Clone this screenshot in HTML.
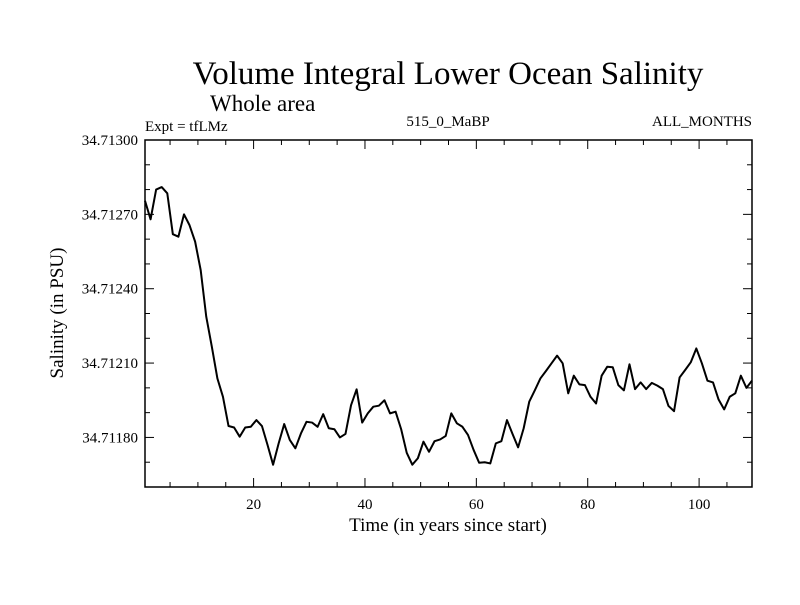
<!DOCTYPE html>
<html><head><meta charset="utf-8"><style>
body{margin:0;background:#fff}
svg text{font-family:"Liberation Serif",serif;fill:#000}
</style></head><body>
<svg id="c" width="800" height="600">
<text x="448" y="84" font-size="33" text-anchor="middle">Volume Integral Lower Ocean Salinity</text>
<text x="210" y="111" font-size="23">Whole area</text>
<text x="145" y="131" font-size="15">Expt = tfLMz</text>
<text x="448" y="126" font-size="15" text-anchor="middle">515_0_MaBP</text>
<text x="752" y="126" font-size="15" text-anchor="end">ALL_MONTHS</text>
<text x="448" y="531" font-size="19" text-anchor="middle">Time (in years since start)</text>
<text transform="translate(63,313) rotate(-90)" font-size="19" text-anchor="middle">Salinity (in PSU)</text>
<g id="ax"></g>
</svg>
<script>
const years=[];for(let i=1;i<=110;i++)years.push(i-0.5);
const offsets=[115.5,108,120,121,118.5,102,101,110,105.6,99,87.5,68.7,56.6,43.8,36.4,24.6,24,20.3,24,24.3,27,24.6,17,9,17.6,25.4,19,15.6,21.6,26.3,26,24.3,29.4,23.7,23.3,20,21.4,33,39.4,26,29.7,32.4,32.8,35,29.7,30.4,23.3,13.8,9,11.6,18.3,14.2,18.5,19.2,20.6,29.7,25.7,24.3,21,15,9.8,10,9.5,17.6,18.5,27,21.4,16,23.7,34.4,39,43.8,46.8,49.9,53,49.9,37.8,44.9,41.4,41.1,36.4,33.7,44.9,48.5,48.3,41.1,39,49.5,39.5,42.2,39.5,42,40.9,39.5,32.7,30.6,44.2,47.2,50.3,55.9,49.9,42.9,42.2,35.3,31.3,36.4,37.8,44.9,40,42.9];
const values=offsets.map(o=>34.71160+o*1e-5);
const yTicks=[34.71180,34.71210,34.71240,34.71270,34.71300];
const yTickLabels=["34.71180","34.71210","34.71240","34.71270","34.71300"];
const xTicks=[20,40,60,80,100];
const X0=145,X1=752,Y0=140,Y1=487,xmin=0.5,xmax=109.5,ymin=34.7116,ymax=34.7130;
const sx=v=>X0+(v-xmin)/(xmax-xmin)*(X1-X0);
const sy=v=>Y1-(v-ymin)/(ymax-ymin)*(Y1-Y0);
const NS="http://www.w3.org/2000/svg",g=document.getElementById('ax');
function mk(t,a){const e=document.createElementNS(NS,t);for(const k in a)e.setAttribute(k,a[k]);g.appendChild(e);return e;}
const fr=mk('rect',{x:X0,y:Y0,width:X1-X0,height:Y1-Y0,fill:'none',stroke:'#000','stroke-width':1.5});


for(let v=5;v<110;v+=5){const x=sx(v),L=(v%20==0)?9:5;
const t1=mk('line',{x1:x,y1:Y1,x2:x,y2:Y1-L,stroke:'#000'});


const t2=mk('line',{x1:x,y1:Y0,x2:x,y2:Y0+L,stroke:'#000'});

}
xTicks.forEach(v=>{const t=mk('text',{x:sx(v),y:509,'font-size':15,'text-anchor':'middle'});t.textContent=v;

});
for(let k=1;k<14;k++){const v=ymin+k*1e-4,y=sy(v),L=(k%3==2)?9:5;
const t1=mk('line',{x1:X0,y1:y,x2:X0+L,y2:y,stroke:'#000'});


const t2=mk('line',{x1:X1,y1:y,x2:X1-L,y2:y,stroke:'#000'});

}
yTicks.forEach((v,i)=>{const t=mk('text',{x:138,y:sy(v)+5,'font-size':15,'text-anchor':'end'});t.textContent=yTickLabels[i];

});
const p=mk('polyline',{points:years.map((x,i)=>sx(x)+','+sy(values[i])).join(' '),fill:'none',stroke:'#000','stroke-width':2,'stroke-linejoin':'round'});


</script>
</body></html>
